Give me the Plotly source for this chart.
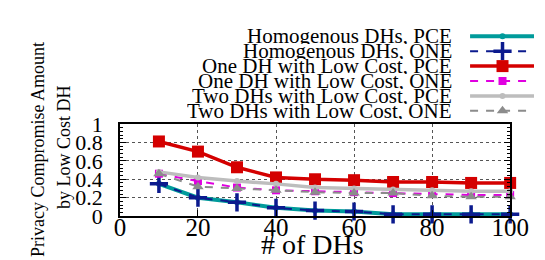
import plotly.graph_objects as go

# ---- data ----
num_dhs = [10, 20, 30, 40, 50, 60, 70, 80, 90, 100]
homo_pce = [0.35, 0.20, 0.15, 0.09, 0.06, 0.05, 0.02, 0.02, 0.02, 0.02]
homo_one = [0.35, 0.20, 0.15, 0.09, 0.06, 0.05, 0.02, 0.02, 0.02, 0.02]
one_low_pce = [0.81, 0.70, 0.53, 0.42, 0.40, 0.39, 0.37, 0.37, 0.36, 0.36]
one_low_one = [0.46, 0.38, 0.31, 0.28, 0.27, 0.26, 0.25, 0.24, 0.23, 0.23]
two_low_pce = [0.48, 0.42, 0.38, 0.35, 0.31, 0.30, 0.29, 0.28, 0.27, 0.27]
two_low_one = [0.46, 0.32, 0.30, 0.28, 0.26, 0.25, 0.25, 0.22, 0.21, 0.21]
series_names = [
    "Homogenous DHs, PCE",
    "Homogenous DHs, ONE",
    "One DH with Low Cost, PCE",
    "One DH with Low Cost, ONE",
    "Two DHs with Low Cost, PCE",
    "Two DHs with Low Cost, ONE",
]
x_ticks = [0, 20, 40, 60, 80, 100]
y_ticks = [0, 0.2, 0.4, 0.6, 0.8, 1]
y_tick_labels = ["0", "0.2", "0.4", "0.6", "0.8", "1"]
x_title = "# of DHs"
y_title_1 = "Privacy Compromise Amount"
y_title_2 = "by Low Cost DH"

# ---- styles ----
W, H = 545, 260
FONT = "Liberation Serif"
styles = [
    dict(line=dict(color="#009b9b", width=4), marker=dict(symbol="circle", size=6, color="#009b9b")),
    dict(line=dict(color="#0b1a8e", width=2, dash="8px,8px"),
         marker=dict(symbol="cross-thin", size=13, color="#0b1a8e", line=dict(width=3.5, color="#0b1a8e"))),
    dict(line=dict(color="#d40000", width=3.5), marker=dict(symbol="square", size=12, color="#d40000")),
    dict(line=dict(color="#e000e0", width=2, dash="8px,8px"), marker=dict(symbol="square", size=8, color="#e000e0")),
    dict(line=dict(color="#bdbdbd", width=3.5), marker=dict(symbol="circle", size=6, color="#bdbdbd")),
    dict(line=dict(color="#8c8c8c", width=2, dash="8px,8px"), marker=dict(symbol="triangle-up", size=10, color="#8c8c8c")),
]
all_series = [homo_pce, homo_one, one_low_pce, one_low_one, two_low_pce, two_low_one]

# plot area in pixels
L, R, T, B = 111, 520, 115, 217

fig = go.Figure()
for name, ys, st in zip(series_names, all_series, styles):
    fig.add_trace(go.Scatter(x=num_dhs, y=ys, mode="lines+markers", name=name,
                             line=st["line"], marker=st["marker"], cliponaxis=False,
                             showlegend=False))

# ---- manual legend (text left of sample, gnuplot style) ----
leg_y0, leg_dy = 18, 16.5
leg_x_text = 460
leg_x0, leg_x1, leg_xm = 478, 547, 512
annotations = []
for i, (name, st) in enumerate(zip(series_names, styles)):
    yy = leg_y0 + i * leg_dy
    fig.add_trace(go.Scatter(x=[leg_x0, leg_xm, leg_x1], y=[yy, yy, yy], mode="lines",
                             line=st["line"], xaxis="x2", yaxis="y2", showlegend=False,
                             hoverinfo="skip", cliponaxis=False))
    fig.add_trace(go.Scatter(x=[leg_xm], y=[yy], mode="markers", marker=st["marker"],
                             xaxis="x2", yaxis="y2", showlegend=False, hoverinfo="skip",
                             cliponaxis=False))
    annotations.append(dict(x=leg_x_text / W, y=1 - yy / H, xref="paper", yref="paper",
                            xanchor="right", yanchor="middle", text=name, showarrow=False,
                            height=16, borderpad=0,
                            font=dict(family=FONT, size=21, color="black")))

annotations.append(dict(x=313 / W, y=1 - 248 / H, xref="paper", yref="paper",
                        xanchor="center", yanchor="middle", text=x_title, showarrow=False,
                        height=20, borderpad=0,
                        font=dict(family=FONT, size=28, color="black")))
annotations.append(dict(x=25 / W, y=1 - 143 / H, xref="paper", yref="paper", textangle=-90,
                        xanchor="center", yanchor="middle", text=y_title_1, showarrow=False,
                        font=dict(family=FONT, size=18, color="black")))
annotations.append(dict(x=53 / W, y=1 - 141 / H, xref="paper", yref="paper", textangle=-90,
                        xanchor="center", yanchor="middle", text=y_title_2, showarrow=False,
                        font=dict(family=FONT, size=18, color="black")))

fig.update_layout(
    width=W, height=H,
    margin=dict(l=0, r=0, t=0, b=0),
    paper_bgcolor="white", plot_bgcolor="rgba(0,0,0,0)",
    font=dict(family=FONT, color="black"),
    annotations=annotations,
    xaxis=dict(domain=[L / W, R / W], range=[0, 100], tickvals=x_ticks,
               ticktext=[str(v) for v in x_ticks], ticks="inside", ticklen=6,
               tickcolor="black", showline=True, linecolor="black", linewidth=1.5,
               mirror=True, showgrid=True, gridcolor="#555555", griddash="dot", gridwidth=1,
               zeroline=False, tickfont=dict(family=FONT, size=25), ticklabelstandoff=-12,
               anchor="y"),
    yaxis=dict(domain=[1 - B / H, 1 - T / H], range=[0, 1], tickvals=y_ticks,
               ticktext=y_tick_labels, ticks="inside", ticklen=6, tickcolor="black",
               showline=True, linecolor="black", linewidth=1.5, mirror="allticks",
               showgrid=True, gridcolor="#555555", griddash="dot", gridwidth=1,
               zeroline=False, tickfont=dict(family=FONT, size=22), ticklabelstandoff=11,
               minor=dict(dtick=0.04, ticks="inside", ticklen=3, tickcolor="black", showgrid=False),
               anchor="x"),
    xaxis2=dict(domain=[0, 1], range=[0, W], visible=False, anchor="y2", fixedrange=True),
    yaxis2=dict(domain=[0, 1], range=[H, 0], visible=False, anchor="x2", fixedrange=True),
)

fig.write_html("out.html")
